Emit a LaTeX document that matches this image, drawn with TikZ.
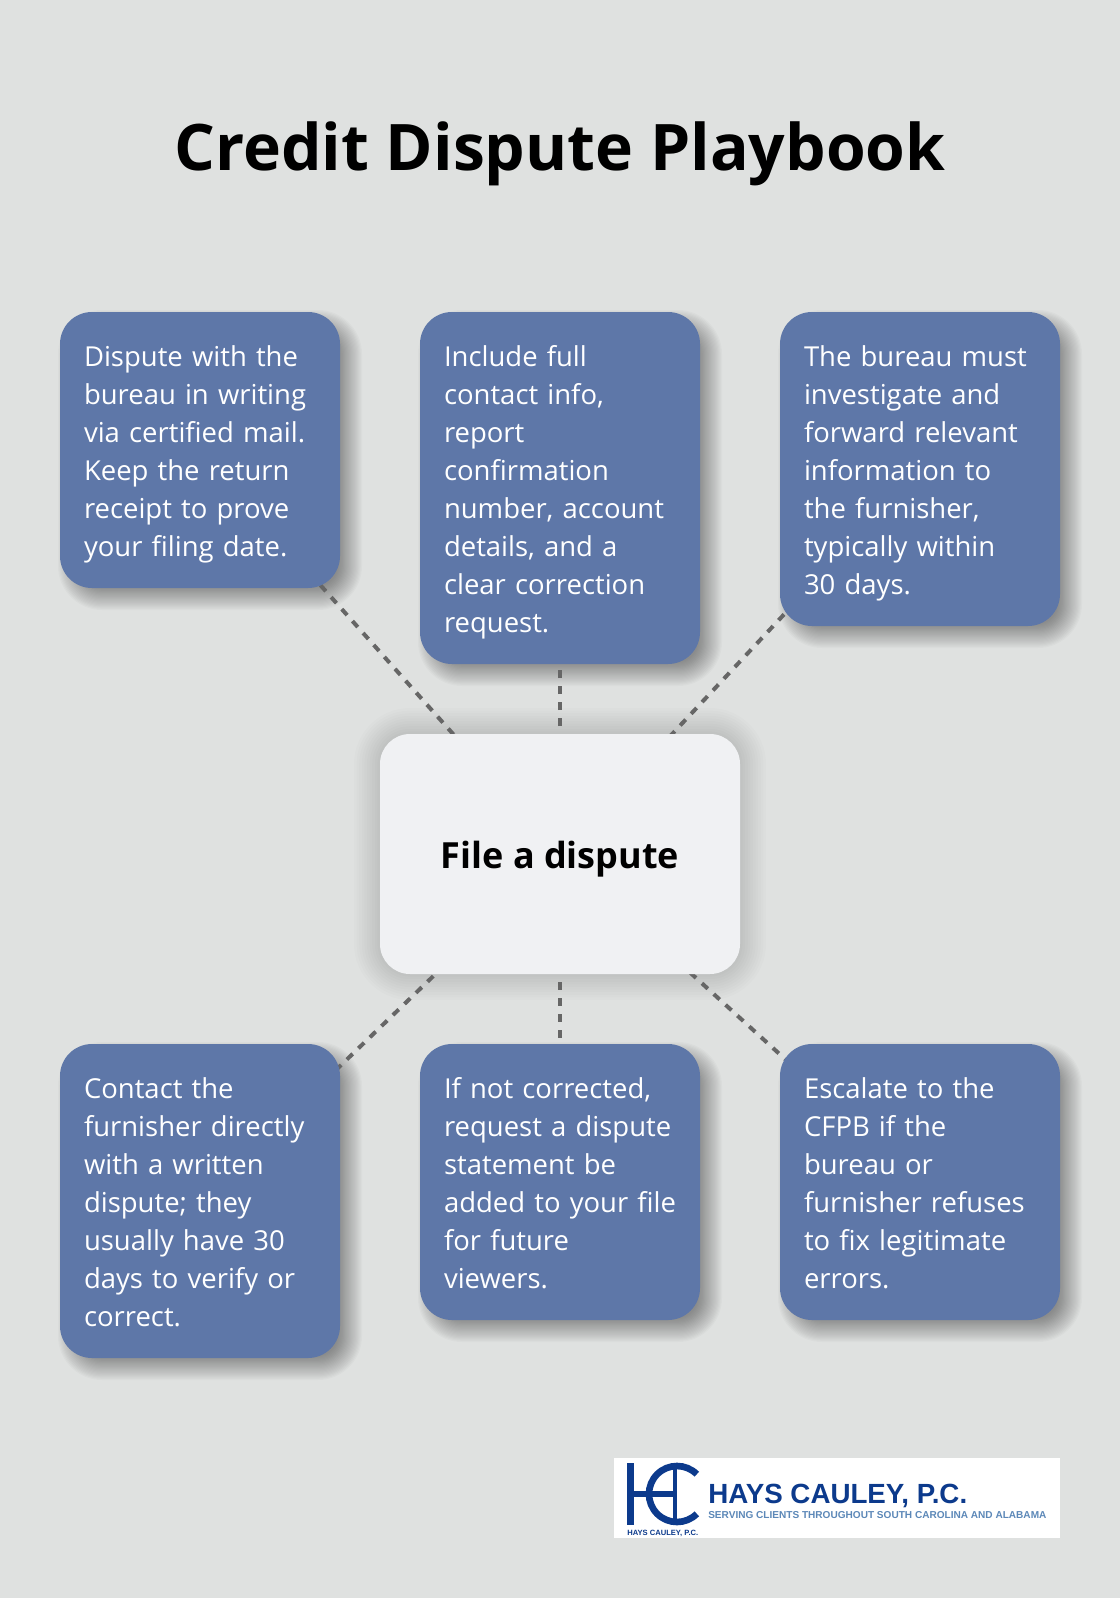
\documentclass[tikz,border=0pt]{standalone}
\usepackage{fontspec}
\setmainfont{Open Sans}
\newfontfamily\logofont{Liberation Sans}
\usetikzlibrary{backgrounds}
\definecolor{pagegray}{HTML}{DFE1E0}
\definecolor{stepblue}{HTML}{5E77A8}
\definecolor{hubgray}{HTML}{F0F1F3}
\definecolor{linkgray}{HTML}{666666}
\definecolor{logoblue}{HTML}{0C3A8C}
\definecolor{logosky}{HTML}{5C88B8}
\tikzset{
  stepbox/.style={fill=stepblue, text=white, rounded corners=24pt, inner xsep=18pt, inner ysep=0pt,
    outer sep=0pt, minimum width=210pt, text width=174pt, align=left,
    font=\fontsize{20.6}{28.5}\selectfont,
    execute at begin node={\rule{0pt}{22.5pt}},
    execute at end node={\rule[-6pt]{0pt}{6pt}}},
  hubbox/.style={fill=hubgray, text=black, rounded corners=22.5pt, inner sep=0pt, outer sep=0pt,
    minimum width=270pt, minimum height=180pt, align=center, text height=27pt, text depth=6pt,
    font=\fontsize{27}{30}\selectfont\bfseries},
  titletext/.style={text=black, inner sep=0pt, font=\fontsize{48.15}{56}\selectfont\bfseries},
  link/.style={draw=linkgray, line width=3pt, dash pattern=on 6pt off 6pt},
  shadowlayer/.style={fill=black, fill opacity=#1},
  logotext/.style={anchor=west, inner sep=0pt, font=\logofont\bfseries},
}
% soft shadow: opacity, node, shift x, shift y, corner radius, spread
\newcommand{\softshadow}[6]{
  \foreach \k in {-10,...,10} {
    \pgfmathsetmacro{\s}{\k*#6/10}
    \pgfmathsetmacro{\rad}{max(0.75*(#5+\s),1)}
    \fill[shadowlayer=#1, rounded corners=\rad pt]
      ([shift={(#3-\s,#4+\s)}]#2.south west) rectangle ([shift={(#3+\s,#4-\s)}]#2.north east);
  }
}
\begin{document}
\begin{tikzpicture}[x=0.75pt,y=-0.75pt]
  \useasboundingbox (0,0) rectangle (1120,1598);

  % title
  \node[titletext] (title) at (560,154) {Credit Dispute Playbook};

  % boxes
  \node[hubbox] (hub) at (560,854) {File a dispute};
  \node[stepbox, minimum height=207pt] (s1) at (200,450) {Dispute with the\\bureau in writing\\via certified mail.\\Keep the return\\receipt to prove\\your filing date.};
  \node[stepbox, minimum height=264pt] (s2) at (560,488) {Include full\\contact info,\\report\\confirmation\\number, account\\details, and a\\clear correction\\request.};
  \node[stepbox, minimum height=235.5pt] (s3) at (920,469) {The bureau must\\investigate and\\forward relevant\\information to\\the furnisher,\\typically within\\30 days.};
  \node[stepbox, minimum height=235.5pt] (s4) at (200,1201) {Contact the\\furnisher directly\\with a written\\dispute; they\\usually have 30\\days to verify or\\correct.};
  \node[stepbox, minimum height=207pt] (s5) at (560,1182) {If not corrected,\\request a dispute\\statement be\\\mbox{added to your file}\\for future\\viewers.};
  \node[stepbox, minimum height=207pt] (s6) at (920,1182) {Escalate to the\\CFPB if the\\bureau or\\furnisher refuses\\to fix legitimate\\errors.};

  % shadows and links
  \begin{scope}[on background layer]
    \fill[pagegray] (0,0) rectangle (1120,1598);
    \foreach \n in {s1,s2,s3,s4,s5,s6} {\softshadow{0.02}{\n}{10}{10}{32}{12}}
    \softshadow{0.01}{hub}{0}{0}{30}{26}
    \foreach \n in {s1,s2,s3,s4,s5,s6} {\draw[link] (hub.center) -- (\n.center);}
  \end{scope}

  % logo
  \fill[white] (614,1458) rectangle (1060,1538);
  \draw[logoblue, line width=5.25pt] (630.5,1463) -- (630.5,1525);
  \draw[logoblue, line width=4.5pt] (630.5,1494) -- (677,1494);
  \draw[logoblue, line width=3.4pt] (675,1463) -- (675,1525);
  \draw[logoblue, line width=5pt] ([shift={(45:21pt)}]677,1494) arc[start angle=45, end angle=315, radius=21pt];
  \node[logotext, text=logoblue, font=\logofont\fontsize{20.8}{24}\selectfont\bfseries] (logoname) at (708,1496) {HAYS CAULEY, P.C.};
  \node[logotext, text=logosky, font=\logofont\fontsize{7.55}{9}\selectfont\bfseries] (logoline) at (708,1515) {SERVING CLIENTS THROUGHOUT SOUTH CAROLINA AND ALABAMA};
  \node[logotext, text=logoblue, font=\logofont\fontsize{5.7}{7}\selectfont\bfseries] (logosmall) at (627,1533) {HAYS CAULEY, P.C.};
\end{tikzpicture}
\end{document}
